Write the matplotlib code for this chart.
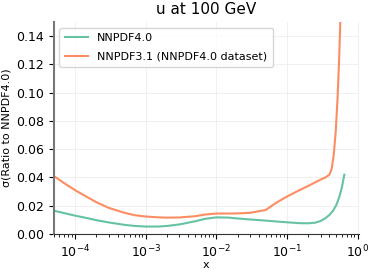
import matplotlib
matplotlib.use("Agg")
import matplotlib.pyplot as plt

# values
x_40 = [5e-5, 7e-5, 1e-4, 1.5e-4, 2e-4, 3e-4, 5e-4, 7e-4, 1e-3, 1.5e-3, 2e-3, 3e-3,
        5e-3, 7e-3, 1e-2, 1.5e-2, 2e-2, 3e-2, 5e-2, 7e-2, 0.1, 0.15, 0.2, 0.25, 0.3,
        0.35, 0.4, 0.45, 0.5, 0.55, 0.6, 0.65]
sig_40 = [0.0165, 0.0148, 0.0130, 0.0112, 0.0098, 0.0082, 0.0065, 0.0057, 0.0053,
          0.0053, 0.0057, 0.0068, 0.0090, 0.0108, 0.0118, 0.0116, 0.0110, 0.0103,
          0.0095, 0.0089, 0.0083, 0.0077, 0.0076, 0.0080, 0.0092, 0.0112, 0.0135,
          0.0165, 0.0205, 0.0260, 0.0330, 0.0420]

x_31 = [5e-5, 7e-5, 1e-4, 1.5e-4, 2e-4, 3e-4, 5e-4, 7e-4, 1e-3, 1.5e-3, 2e-3, 3e-3,
        5e-3, 7e-3, 1e-2, 1.5e-2, 2e-2, 3e-2, 5e-2, 7e-2, 0.1, 0.15, 0.2, 0.25, 0.3,
        0.35, 0.4, 0.43, 0.46, 0.49, 0.52, 0.55, 0.57]
sig_31 = [0.0410, 0.0360, 0.0310, 0.0260, 0.0225, 0.0185, 0.0150, 0.0133, 0.0124,
          0.0118, 0.0116, 0.0117, 0.0126, 0.0138, 0.0145, 0.0145, 0.0146, 0.0150,
          0.0170, 0.0220, 0.0265, 0.0310, 0.0340, 0.0365, 0.0385, 0.0400, 0.0420,
          0.0460, 0.0560, 0.0720, 0.0950, 0.1250, 0.1500]

labels = ["NNPDF4.0", "NNPDF3.1 (NNPDF4.0 dataset)"]
colors = ["#66c2a5", "#fc8d62"]

fig = plt.figure(figsize=(3.74, 2.75), dpi=100)
ax = fig.add_axes([0.144, 0.149, 0.816, 0.771])

ax.plot(x_40, sig_40, color=colors[0], lw=1.5, label=labels[0])
ax.plot(x_31, sig_31, color=colors[1], lw=1.5, label=labels[1])

ax.set_xscale("log")
ax.set_xlim(5e-5, 1.05)
ax.set_ylim(0, 0.15)
ax.set_yticks([0.0, 0.02, 0.04, 0.06, 0.08, 0.10, 0.12, 0.14])
ax.grid(True, which="major", color="#eeeeee", lw=0.6)
ax.set_axisbelow(True)
for side in ("top", "right"):
    ax.spines[side].set_visible(False)
ax.spines["left"].set_color("#777777")
ax.spines["left"].set_linewidth(1.5)
ax.spines["bottom"].set_color("#333333")
ax.tick_params(labelsize=9)

ax.set_title("u at 100 GeV", fontsize=11, pad=6)
ax.set_xlabel("x", fontsize=8, labelpad=0)
ax.set_ylabel("σ(Ratio to NNPDF4.0)", fontsize=8, labelpad=3)
ax.legend(loc="upper left", fontsize=8, handlelength=2.1, labelspacing=0.75,
          borderpad=0.5)

fig.savefig("out.png", dpi=100)
